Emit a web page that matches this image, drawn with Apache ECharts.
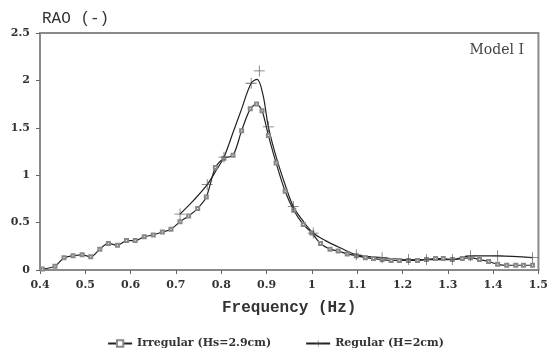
<!DOCTYPE html>
<html>
<head>
<meta charset="utf-8">
<script src="https://cdn.jsdelivr.net/npm/echarts@6/dist/echarts.min.js"></script>
<style>html,body{margin:0;padding:0;background:#fff}#c{width:551px;height:360px}</style>
</head>
<body>
<div id="c"></div>
<script>
var xTicks = [0.4, 0.5, 0.6, 0.7, 0.8, 0.9, 1.0, 1.1, 1.2, 1.3, 1.4, 1.5];
var yTicks = [0, 0.5, 1, 1.5, 2, 2.5];

var irrFreq = [0.405,0.433,0.453,0.473,0.493,0.512,0.532,0.551,0.571,0.591,0.610,0.630,0.650,0.670,0.689,0.709,0.728,0.748,0.767,0.787,0.806,0.826,0.845,0.864,0.878,0.890,0.904,0.921,0.941,0.960,0.981,1.000,1.019,1.040,1.058,1.078,1.098,1.118,1.136,1.155,1.175,1.193,1.213,1.233,1.253,1.273,1.290,1.310,1.332,1.350,1.370,1.390,1.410,1.430,1.450,1.467,1.487];
var irrVal  = [0.01,0.04,0.13,0.15,0.16,0.14,0.22,0.28,0.26,0.31,0.31,0.35,0.37,0.40,0.43,0.51,0.57,0.65,0.77,1.08,1.18,1.21,1.47,1.70,1.75,1.68,1.42,1.13,0.83,0.63,0.48,0.39,0.28,0.22,0.20,0.17,0.15,0.13,0.12,0.11,0.10,0.10,0.10,0.10,0.11,0.12,0.12,0.11,0.12,0.13,0.11,0.09,0.06,0.05,0.05,0.05,0.05];

var regCurveFreq = [0.709,0.740,0.769,0.790,0.806,0.826,0.845,0.866,0.879,0.892,0.904,0.922,0.941,0.959,0.980,1.003,1.030,1.060,1.098,1.155,1.213,1.253,1.310,1.350,1.410,1.487];
var regCurveVal  = [0.59,0.74,0.90,1.06,1.19,1.45,1.70,1.97,2.01,1.85,1.51,1.18,0.90,0.67,0.52,0.39,0.31,0.24,0.16,0.13,0.11,0.11,0.11,0.15,0.15,0.13];
var regMarkFreq = [0.709,0.769,0.806,0.866,0.884,0.904,0.959,1.003,1.098,1.155,1.213,1.253,1.310,1.350,1.410,1.487];
var regMarkVal  = [0.59,0.90,1.19,1.97,2.10,1.51,0.67,0.39,0.16,0.13,0.11,0.11,0.11,0.15,0.15,0.13];

var plusPath = 'path://M-0.7,-10 L0.7,-10 L0.7,-0.7 L10,-0.7 L10,0.7 L0.7,0.7 L0.7,10 L-0.7,10 L-0.7,0.7 L-10,0.7 L-10,-0.7 L-0.7,-0.7 Z';

function zip(a, b) { return a.map(function (v, i) { return [v, b[i]]; }); }

var chart = echarts.init(document.getElementById('c'), null, {renderer: 'canvas'});
chart.setOption({
  animation: false,
  backgroundColor: '#fff',
  title: {
    text: 'Model I', right: 22, top: 38,
    textStyle: {fontFamily: 'DejaVu Serif', fontWeight: 'normal', fontSize: 14, color: '#444'}
  },
  legend: {
    bottom: 6, left: 'center', itemGap: 34, itemWidth: 24, itemHeight: 8,
    data: ['Irregular (Hs=2.9cm)', 'Regular (H=2cm)'],
    textStyle: {fontFamily: 'DejaVu Serif', fontWeight: 'bold', fontSize: 11, color: '#333'}
  },
  grid: {left: 40, right: 10, top: 33, bottom: 90, show: true, borderColor: '#8a8a8a', borderWidth: 2},
  xAxis: {
    type: 'value', min: 0.4, max: 1.5, interval: 0.1,
    name: 'Frequency (Hz)', nameLocation: 'middle', nameGap: 30,
    nameTextStyle: {fontFamily: 'Liberation Mono', fontWeight: 'bold', fontSize: 16, color: '#333'},
    axisLine: {show: true, lineStyle: {color: '#8a8a8a', width: 2}},
    axisTick: {show: true, length: 4, lineStyle: {color: '#666'}},
    splitLine: {show: false},
    axisLabel: {fontFamily: 'DejaVu Serif', fontWeight: 'bold', fontSize: 11, color: '#333', margin: 10,
      formatter: function (v) { return String(Math.round(v * 10) / 10); }}
  },
  yAxis: {
    type: 'value', min: 0, max: 2.5, interval: 0.5,
    name: 'RAO (-)', nameLocation: 'end', nameGap: 6,
    nameTextStyle: {fontFamily: 'Liberation Mono', fontSize: 16, color: '#333', align: 'left', padding: [0, 0, 0, 2]},
    axisLine: {show: true, lineStyle: {color: '#8a8a8a', width: 2}},
    axisTick: {show: true, length: 4, lineStyle: {color: '#666'}},
    splitLine: {show: false},
    axisLabel: {fontFamily: 'DejaVu Serif', fontWeight: 'bold', fontSize: 11, color: '#333', margin: 10}
  },
  series: [
    {
      name: 'Irregular (Hs=2.9cm)', type: 'line', smooth: 0.3,
      data: zip(irrFreq, irrVal),
      symbol: 'emptyRect', symbolSize: 3,
      lineStyle: {color: '#222', width: 1.2},
      itemStyle: {color: '#888', borderColor: '#888', borderWidth: 1}
    },
    {
      name: 'Regular (H=2cm)', type: 'line', smooth: 0.35,
      data: zip(regCurveFreq, regCurveVal),
      symbol: plusPath, symbolSize: 11, showSymbol: false,
      lineStyle: {color: '#222', width: 1.2},
      itemStyle: {color: '#444'}
    },
    {
      name: 'Regular markers', type: 'scatter',
      data: zip(regMarkFreq, regMarkVal),
      symbol: plusPath, symbolSize: 11,
      itemStyle: {color: '#444'}, z: 3
    }
  ]
});
</script>
</body>
</html>
